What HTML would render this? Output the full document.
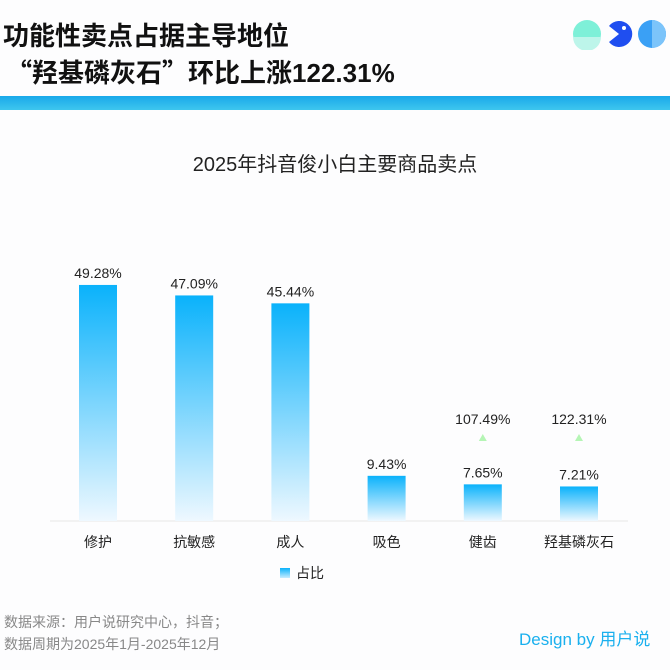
<!DOCTYPE html>
<html><head><meta charset="utf-8"><style>
body{margin:0;width:670px;height:670px;background:#fdfdfe;font-family:"Liberation Sans","Noto Sans CJK SC",sans-serif;position:relative;overflow:hidden}
.t{position:absolute;white-space:nowrap}
.q{font-family:"Noto Sans CJK SC",sans-serif}
</style></head><body>
<div class="t" style="left:3px;top:16px;font-size:26px;font-weight:bold;color:#111">功能性卖点占据主导地位</div>
<div class="t" style="left:6px;top:53px;font-size:26px;font-weight:bold;color:#111"><span class="q">“</span>羟基磷灰石<span class="q">”</span>环比上涨122.31%</div>
<svg style="position:absolute;left:570px;top:18px" width="100" height="32">
<circle cx="17" cy="16" r="14" fill="#7ef0d8"/><path d="M3 19 H31 A14 14 0 0 1 3 19Z" fill="#bdf5ea"/>
<path d="M49 16 L39 8 A13 13 0 1 1 39 24 Z" fill="#1f4ef0"/><circle cx="54" cy="10" r="2" fill="#fff"/>
<circle cx="82" cy="16" r="14" fill="#3aa0f5"/><path d="M82 2 A14 14 0 0 1 82 30Z" fill="#7cc4fa"/>
</svg>
<div style="position:absolute;left:0;top:96px;width:670px;height:14px;background:linear-gradient(#1aa9ea,#3ec6ee)"></div>
<div class="t" style="left:0;width:670px;text-align:center;top:148px;font-size:20px;color:#222">2025年抖音俊小白主要商品卖点</div>
<svg id="c" style="position:absolute;left:0;top:0" width="670" height="670">
<defs><linearGradient id="g" x1="0" y1="0" x2="0" y2="1"><stop offset="0" stop-color="#0ab2fb"/><stop offset="1" stop-color="#eef8ff"/></linearGradient></defs>
</svg>
<div class="t" style="left:280px;top:563px;font-size:14px;color:#222"><span style="display:inline-block;width:10px;height:10px;background:linear-gradient(#0ab2fb,#c8ecff);margin-right:6px"></span>占比</div>
<div class="t" style="left:4px;top:612px;font-size:14px;color:#888">数据来源：用户说研究中心，抖音；</div>
<div class="t" style="left:4px;top:634px;font-size:14px;color:#888">数据周期为2025年1月-2025年12月</div>
<div class="t" style="left:519px;top:625px;font-size:17px;color:#1ab0ee">Design by 用户说</div>
<script>
const categories=["修护","抗敏感","成人","吸色","健齿","羟基磷灰石"];
const shares=[49.28,47.09,45.44,9.43,7.65,7.21];
const growth=[null,null,null,null,107.49,122.31];
const svg=document.getElementById('c');const NS="http://www.w3.org/2000/svg";
const base=521,scale=4.79,x0=98,step=96.2,bw=38;
const y=v=>base-v*scale, x=i=>x0+i*step;
function mk(t,a){const e=document.createElementNS(NS,t);for(const k in a)e.setAttribute(k,a[k]);svg.appendChild(e);return e;}
const ax=mk('line',{x1:50,x2:628,y1:base,y2:base,stroke:'#e6e6e6','stroke-width':1});


categories.forEach((c,i)=>{
const r=mk('rect',{x:x(i)-bw/2,y:y(shares[i]),width:bw,height:shares[i]*scale,fill:'url(#g)'});


const l=mk('text',{x:x(i),y:y(shares[i])-7,'text-anchor':'middle','font-size':14,fill:'#222'});l.textContent=shares[i].toFixed(2)+'%';


const cl=mk('text',{x:x(i),y:547,'text-anchor':'middle','font-size':14,fill:'#222'});cl.textContent=c;


if(growth[i]!=null){
const gt=mk('text',{x:x(i),y:424,'text-anchor':'middle','font-size':14,fill:'#222'});gt.textContent=growth[i].toFixed(2)+'%';


const tr=mk('path',{d:`M${x(i)-4} 441 L${x(i)+4} 441 L${x(i)} 434Z`,fill:'#b5f5b5'});


}});
</script>
</body></html>
